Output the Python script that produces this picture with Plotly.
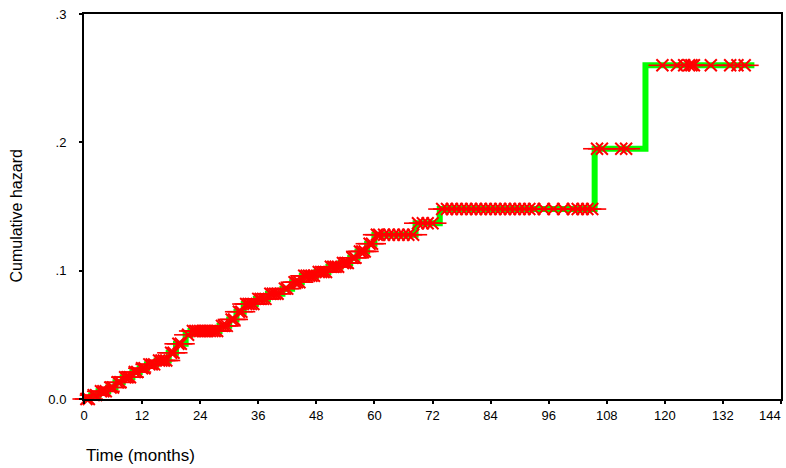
import numpy as np
import plotly.graph_objects as go

# Step function: event times (months) and cumulative hazard after each event
event_times = [0, 1.5, 3, 5, 6.5, 8, 10, 11.5, 13, 15, 17.5, 19, 21, 22, 28, 30, 31.5,
               33, 35.5, 38, 41, 43, 45, 48, 50.5, 53, 55, 56.5, 58.5, 60, 68.5, 73.5,
               105.5, 116, 138.5]
cum_hazard = [0.0, 0.003, 0.006, 0.009, 0.013, 0.017, 0.021, 0.024, 0.027, 0.030, 0.036,
              0.043, 0.050, 0.053, 0.057, 0.062, 0.068, 0.074, 0.078, 0.082, 0.086, 0.091,
              0.096, 0.099, 0.103, 0.106, 0.110, 0.115, 0.121, 0.128, 0.137, 0.148,
              0.195, 0.260, 0.260]

# Censored observation times (months)
censor_times = [0.5, 1, 2, 2.5, 3.5, 4, 4.5, 5.5, 6, 7, 7.5, 8.5, 9, 9.5, 10.5, 11, 12, 12.5,
                13.5, 14, 14.5, 15.5, 16, 16.5, 17, 18, 18.5, 19.5, 20, 21.5, 22.5, 23, 23.5,
                24, 24.5, 25, 25.5, 26, 26.5, 27, 27.5, 28.5, 29, 29.5, 30.5, 31, 32, 32.5,
                33.5, 34, 34.5, 35, 36, 36.5, 37, 37.5, 38.5, 39, 39.5, 40, 41.5, 42, 43.5,
                44, 44.5, 45.5, 46, 46.5, 47, 47.5, 48.5, 49, 49.5, 50, 51, 51.5, 52, 52.5,
                53.5, 54, 54.5, 55.5, 56, 57, 57.5, 58, 59, 59.5, 60.5, 61, 62, 63, 64, 65,
                66, 67, 68, 69, 70, 71, 72, 74, 75, 76, 77, 78, 79, 80, 81, 82, 83, 84, 85,
                86, 87, 88, 89, 90, 91, 92, 93, 95, 97, 99, 101, 102, 103, 104, 105, 106,
                107, 111, 112, 119.5, 122.5, 124, 125, 125.5, 126, 129.5, 133.5, 135, 136.5]

x_ticks = [0, 12, 24, 36, 48, 60, 72, 84, 96, 108, 120, 132, 144]
y_ticks = [0.0, 0.1, 0.2, 0.3]
y_tick_labels = ["0.0", ".1", ".2", ".3"]

et = np.array(event_times)
ch = np.array(cum_hazard)
ct = np.array(censor_times)
censor_h = ch[np.searchsorted(et, ct, side="right") - 1]

RED = "#FF0000"
fig = go.Figure()
fig.add_trace(go.Scatter(x=event_times, y=cum_hazard, mode="lines",
                         line=dict(color="#00FF00", width=6, shape="hv"),
                         showlegend=False, hoverinfo="skip"))
fig.add_trace(go.Scatter(x=ct, y=censor_h, mode="markers", cliponaxis=False,
                         marker=dict(symbol="x-thin-open", size=12, color=RED,
                                     line=dict(color=RED, width=2)),
                         showlegend=False))
fig.add_trace(go.Scatter(x=ct, y=censor_h, mode="markers", cliponaxis=False,
                         marker=dict(symbol="line-ew-open", size=20, color=RED,
                                     line=dict(color=RED, width=1.6)),
                         showlegend=False))

font = "Liberation Sans, Arial, sans-serif"
tick_text = [str(v) for v in x_ticks[:-1]] + [""]
fig.update_layout(
    width=786, height=468,
    margin=dict(l=84, r=3, t=14, b=69),
    paper_bgcolor="white", plot_bgcolor="white",
    font=dict(family=font, size=13, color="black"),
    xaxis=dict(range=[0, 144], tickvals=x_ticks, ticktext=tick_text,
               showgrid=False, zeroline=False, showline=True, linecolor="black",
               linewidth=2, mirror=True, ticks="outside", ticklen=3, tickwidth=2,
               tickcolor="black", tickfont=dict(size=13)),
    yaxis=dict(range=[0, 0.3], tickvals=y_ticks, ticktext=y_tick_labels,
               showgrid=False, zeroline=False, showline=True, linecolor="black",
               linewidth=2, mirror=True, ticks="outside", ticklen=3, tickwidth=2,
               tickcolor="black", tickfont=dict(size=13), ticklabelstandoff=10),
    annotations=[
        dict(text=str(x_ticks[-1]), xref="paper", yref="paper", x=1.0035, y=-0.018,
             xanchor="right", yanchor="top", showarrow=False,
             font=dict(size=13, family=font)),
        dict(text="Time (months)", xref="paper", yref="paper", x=0, y=-0.148,
             xanchor="left", yanchor="middle", showarrow=False,
             font=dict(size=17, family=font)),
        dict(text="Cumulative hazard", xref="paper", yref="paper", x=-0.097, y=0.475,
             xanchor="center", yanchor="middle", textangle=-90, showarrow=False,
             font=dict(size=16, family=font)),
    ],
)

fig.write_html("out.html")
